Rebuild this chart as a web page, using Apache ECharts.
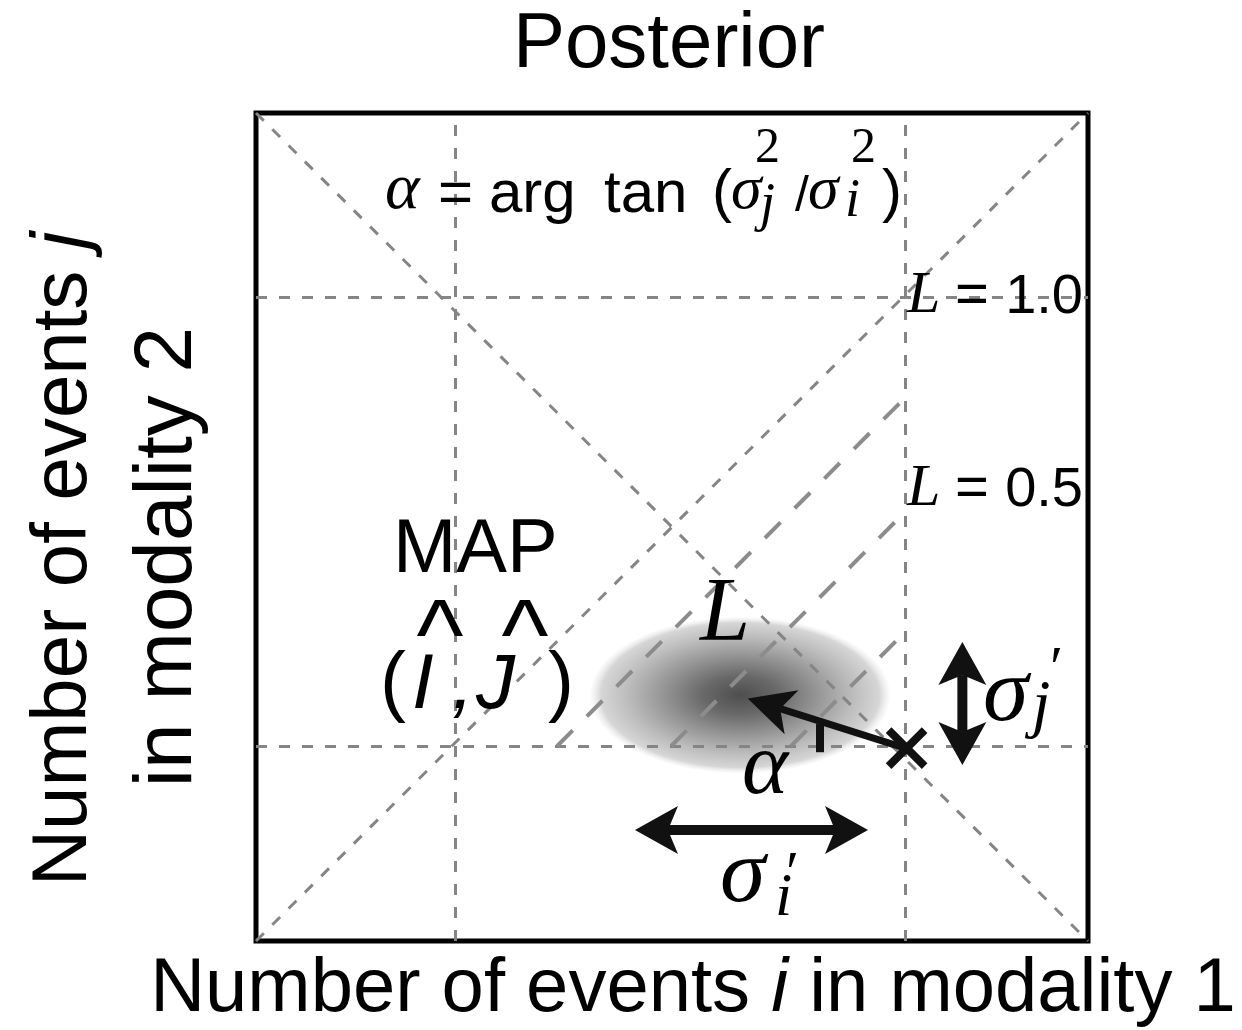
<!DOCTYPE html>
<html><head><meta charset="utf-8">
<script src="https://cdn.jsdelivr.net/npm/echarts@6/dist/echarts.min.js"></script>
<style>html,body{margin:0;padding:0;background:#fff}#c{width:1242px;height:1030px}</style>
</head><body><div id="c"></div>
<script>
// ---------- data (fractions of each axis, 0..1) ----------
const guideX = [0.239, 0.780];            // vertical guide lines
const guideY = [0.2355, 0.778];           // horizontal guide lines
const diagonals = [[0, 0, 1, 1], [0, 1, 1, 0]];
const likelihoodLines = [                 // long-dash iso-lines
  [0.362, 0.2355, 0.780, 0.656],
  [0.499, 0.2355, 0.780, 0.518],
  [0.643, 0.2355, 0.780, 0.373]
];
const posterior = [[0.582, 0.297, 0.180, 0.094]]; // centre x, centre y, spread x, spread y
const mapPoint = [[0.782, 0.233]];
const directionArrow = [[0.780, 0.233, 0.591, 0.293]];
const angleTick = [[0.678, 0.262, 0.678, 0.228]];
const sigmaArrows = [
  [0.4555, 0.134, 0.7356, 0.134],
  [0.849, 0.361, 0.849, 0.2126]
];
const titleText = 'Posterior';
const xLabelParts = ['Number of events ', 'i', ' in modality 1'];
const yLabel1Parts = ['Number of events ', 'j'];
const yLabel2 = 'in modality 2';

// ---------- helpers ----------
const SANS = '"Liberation Sans", Arial, Helvetica, sans-serif';
const SERIF = '"Liberation Serif", "Times New Roman", serif';
function T(x, base, text, size, o) {
  o = o || {};
  const fam = o.serif ? SERIF : SANS;
  const font = (o.italic ? 'italic ' : '') + size + 'px ' + fam;
  const al = o.align || 'left';
  return { type: 'text', x: x, y: base - (o.serif ? 0.34 : 0.345) * size, z: 50,
    style: { text: text, font: font, fill: '#000', align: al, textAlign: al,
      verticalAlign: 'middle', textVerticalAlign: 'middle' } };
}
function head(tip, ux, uy, len, half, notch) {
  const bx = tip[0] - ux * len, by = tip[1] - uy * len;
  const nx = -uy, ny = ux;
  return [tip, [bx + nx * half, by + ny * half],
    [tip[0] - ux * (len - notch), tip[1] - uy * (len - notch)],
    [bx - nx * half, by - ny * half]];
}
function arrowRenderer(opt) {
  return function (params, api) {
    const p1 = api.coord([api.value(0), api.value(1)]);
    const p2 = api.coord([api.value(2), api.value(3)]);
    const dx = p2[0] - p1[0], dy = p2[1] - p1[1], d = Math.hypot(dx, dy);
    const ux = dx / d, uy = dy / d;
    const back = opt.len - opt.notch;
    const s1 = opt.both ? [p1[0] + ux * back, p1[1] + uy * back] : p1;
    const s2 = [p2[0] - ux * back, p2[1] - uy * back];
    const ch = [{ type: 'line', shape: { x1: s1[0], y1: s1[1], x2: s2[0], y2: s2[1] },
      style: { stroke: '#111', lineWidth: opt.width } },
      { type: 'polygon', shape: { points: head(p2, ux, uy, opt.len, opt.half, opt.notch) },
        style: { fill: '#111' } }];
    if (opt.both) ch.push({ type: 'polygon', shape: { points: head(p1, -ux, -uy, opt.len, opt.half, opt.notch) },
      style: { fill: '#111' } });
    return { type: 'group', children: ch };
  };
}
const segs = a => a.map(s => ({ coords: [[s[0], s[1]], [s[2], s[3]]] }));

const shortDash = { color: '#858585', width: 3, type: [11, 12], opacity: 1 };
const longDash = { color: '#8c8c8c', width: 4, type: [22, 20], opacity: 1 };

const chart = echarts.init(document.getElementById('c'), null, { renderer: 'canvas' });

const blobGrad = new echarts.graphic.RadialGradient(0.5, 0.5, 0.5, [
  { offset: 0, color: '#4e4e4e' },
  { offset: 0.25, color: '#696969' },
  { offset: 0.5, color: '#939393' },
  { offset: 0.75, color: '#bcbcbc' },
  { offset: 0.93, color: '#d6d6d6' },
  { offset: 1, color: 'rgba(235,235,235,0.2)' }
]);

const graphics = [
  T(669, 72, titleText, 78, { align: 'center' }),
  { type: 'text', x: 693, y: 1016 - 0.345 * 76, z: 50,
    style: { text: '{a|' + xLabelParts[0] + '}{b|' + xLabelParts[1] + '}{a|' + xLabelParts[2] + '}',
      align: 'center', textAlign: 'center', verticalAlign: 'middle', textVerticalAlign: 'middle',
      rich: { a: { font: '76px ' + SANS, fill: '#000' }, b: { font: 'italic 76px ' + SANS, fill: '#000' } } } },
  { type: 'text', x: 91 - 0.345 * 78, y: 559, rotation: Math.PI / 2, z: 50,
    style: { text: '{a|' + yLabel1Parts[0] + '}{b|' + yLabel1Parts[1] + '}',
      align: 'center', textAlign: 'center', verticalAlign: 'middle', textVerticalAlign: 'middle',
      rich: { a: { font: '78px ' + SANS, fill: '#000' }, b: { font: 'italic 78px ' + SANS, fill: '#000' } } } },
  { type: 'text', x: 197 - 0.345 * 82, y: 557, rotation: Math.PI / 2, z: 50,
    style: { text: yLabel2, font: '82px ' + SANS, fill: '#000',
      align: 'center', textAlign: 'center', verticalAlign: 'middle', textVerticalAlign: 'middle' } },
  // formula
  T(385, 213, 'α', 66, { serif: true, italic: true }),
  T(438, 216, '=', 60),
  T(489, 216, 'arg', 60),
  T(604, 216, 'tan', 60),
  T(712, 215, '(', 60),
  T(731, 213, 'σ', 62, { serif: true, italic: true }),
  T(760, 224, 'j', 54, { serif: true, italic: true }),
  T(755, 166, '2', 50, { serif: true }),
  T(795, 214, '/', 50),
  T(808, 213, 'σ', 62, { serif: true, italic: true }),
  T(845, 220, 'i', 54, { serif: true, italic: true }),
  T(851, 166, '2', 50, { serif: true }),
  T(882, 215, ')', 60),
  // L labels
  T(907, 317, 'L', 60, { serif: true, italic: true }),
  T(955, 317, '=', 58),
  T(1083, 317, '1.0', 56, { align: 'right' }),
  T(907, 510, 'L', 60, { serif: true, italic: true }),
  T(955, 510, '=', 58),
  T(1083, 510, '0.5', 56, { align: 'right' }),
  // MAP
  T(393, 577, 'MAP', 76),
  T(380, 712, '(', 78),
  T(412, 713, 'I', 78, { italic: true }),
  T(452, 713, ',', 78, { italic: true }),
  T(476, 713, 'J', 78, { italic: true }),
  T(548, 712, ')', 78),
  T(440, 676, '^', 100, { align: 'center' }),
  T(525, 676, '^', 100, { align: 'center' }),
  // annotations
  T(700, 647, 'L', 90, { serif: true, italic: true }),
  T(742, 800, 'α', 88, { serif: true, italic: true }),
  T(983, 727, 'σ', 92, { serif: true, italic: true }),
  T(1032, 730, 'j', 66, { serif: true, italic: true }),
  T(1050, 692, '′', 60, { serif: true }),
  T(720, 908, 'σ', 92, { serif: true, italic: true }),
  T(775, 920, 'i', 62, { serif: true, italic: true }),
  T(786, 897, '′', 60, { serif: true })
];

chart.setOption({
  animation: false,
  backgroundColor: '#fff',
  grid: { left: 256, top: 113, width: 832, height: 828, show: true,
    borderColor: '#000', borderWidth: 5, backgroundColor: 'transparent' },
  xAxis: { type: 'value', min: 0, max: 1, show: false },
  yAxis: { type: 'value', min: 0, max: 1, show: false },
  graphic: graphics,
  series: [
    { type: 'custom', name: 'posterior', coordinateSystem: 'cartesian2d', silent: true, z: 1,
      encode: { x: 0, y: 1 }, data: posterior,
      renderItem: function (params, api) {
        const c = api.coord([api.value(0), api.value(1)]);
        const s = api.size([api.value(2), api.value(3)]);
        return { type: 'circle', x: c[0], y: c[1], scaleX: s[0] / s[1],
          shape: { cx: 0, cy: 0, r: s[1] }, style: { fill: blobGrad } };
      } },
    { type: 'lines', coordinateSystem: 'cartesian2d', silent: true, z: 2, symbol: 'none',
      lineStyle: shortDash,
      data: segs(guideX.map(x => [x, 0, x, 1]).concat(guideY.map(y => [0, y, 1, y])).concat(diagonals)) },
    { type: 'lines', coordinateSystem: 'cartesian2d', silent: true, z: 2, symbol: 'none',
      lineStyle: longDash, data: segs(likelihoodLines) },
    { type: 'lines', coordinateSystem: 'cartesian2d', silent: true, z: 3, symbol: 'none',
      lineStyle: { color: '#111', width: 8, type: 'solid', opacity: 1 }, data: segs(angleTick) },
    { type: 'custom', coordinateSystem: 'cartesian2d', silent: true, z: 4,
      encode: { x: [0, 2], y: [1, 3] }, data: directionArrow,
      renderItem: arrowRenderer({ width: 7, len: 46, half: 23, notch: 12, both: false }) },
    { type: 'custom', coordinateSystem: 'cartesian2d', silent: true, z: 4,
      encode: { x: [0, 2], y: [1, 3] }, data: sigmaArrows,
      renderItem: arrowRenderer({ width: 10, len: 43, half: 24, notch: 10, both: true }) },
    { type: 'custom', coordinateSystem: 'cartesian2d', silent: true, z: 5,
      encode: { x: 0, y: 1 }, data: mapPoint,
      renderItem: function (params, api) {
        const c = api.coord([api.value(0), api.value(1)]);
        const h = 18;
        return { type: 'group', children: [
          { type: 'line', shape: { x1: c[0] - h, y1: c[1] - h, x2: c[0] + h, y2: c[1] + h }, style: { stroke: '#111', lineWidth: 8 } },
          { type: 'line', shape: { x1: c[0] - h, y1: c[1] + h, x2: c[0] + h, y2: c[1] - h }, style: { stroke: '#111', lineWidth: 8 } }
        ] };
      } }
  ]
});
</script>
</body></html>
